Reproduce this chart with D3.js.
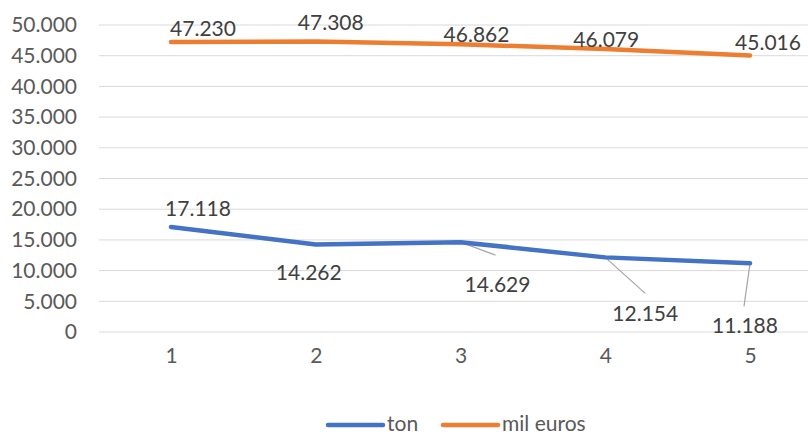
<!DOCTYPE html>
<html>
<head>
<meta charset="utf-8">
<script src="https://cdn.jsdelivr.net/npm/d3@7"></script>
<style>
  body { margin: 0; background: #fff; }
  text { font-family: Lato, 'Open Sans', sans-serif; }
</style>
</head>
<body>
<div id="chart"></div>
<script>
const categories = ['1', '2', '3', '4', '5']
const ton = [17118, 14262, 14629, 12154, 11188]
const milEuros = [47230, 47308, 46862, 46079, 45016]
const yTicks = [0, 5000, 10000, 15000, 20000, 25000, 30000, 35000, 40000, 45000, 50000]
const seriesNames = ['ton', 'mil euros']

// label placement (offset from the point: dx = label centre, dy = baseline)
const tonLabelPos = [[27, -11], [-7, 36], [37, 50], [40, 64], [-5, 70]]
const eurosLabelPos = [[32, -6], [15, -12], [16, -2], [1, -2], [18, -6]]
// leader lines for moved labels (end offset from point), null = none
const tonLeaders = [null, null, [35, 13], [40, 36], [-6, 43]]

const width = 808
const height = 435
const fmt = v => d3.format(',')(v).replace(/,/g, '.')

const svg = d3.select('#chart')
  .append('svg')
  .attr('width', width)
  .attr('height', height)

const x = d3.scalePoint()
  .domain(categories)
  .range([171, 750])

const y = d3.scaleLinear()
  .domain([0, 50000])
  .range([332, 25])

// gridlines
svg.append('g')
  .selectAll('line')
  .data(yTicks)
  .join('line')
  .attr('x1', 99)
  .attr('x2', 823)
  .attr('y1', d => y(d))
  .attr('y2', d => y(d))
  .attr('stroke', '#d9d9d9')
  .attr('stroke-width', 1)

// y axis labels
const yAxis = svg.append('g')
  .attr('transform', 'translate(77,0)')
  .call(d3.axisLeft(y).tickValues(yTicks).tickFormat(fmt).tickSize(0).tickPadding(0))
yAxis.select('.domain').remove()
yAxis.selectAll('text')
  .attr('fill', '#595959')
  .style('font-size', '21px')
  .style('font-family', 'Lato, sans-serif')

// x axis labels
const xAxis = svg.append('g')
  .attr('transform', 'translate(0,348)')
  .call(d3.axisBottom(x).tickSize(0).tickPadding(0))
xAxis.select('.domain').remove()
xAxis.selectAll('text')
  .attr('fill', '#595959')
  .style('font-size', '21px')
  .style('font-family', 'Lato, sans-serif')

const line = d3.line()
  .x((d, i) => x(categories[i]))
  .y(d => y(d))

const colors = ['#4472c4', '#ed7d31']

// leader lines
svg.append('g')
  .selectAll('line')
  .data(ton.map((v, i) => ({ v, i, l: tonLeaders[i] })).filter(d => d.l))
  .join('line')
  .attr('x1', d => x(categories[d.i]))
  .attr('y1', d => y(d.v))
  .attr('x2', d => x(categories[d.i]) + d.l[0])
  .attr('y2', d => y(d.v) + d.l[1])
  .attr('stroke', '#a6a6a6')
  .attr('stroke-width', 1.2)

;[ton, milEuros].forEach((series, k) => {
  svg.append('path')
    .datum(series)
    .attr('fill', 'none')
    .attr('stroke', colors[k])
    .attr('stroke-width', 4.5)
    .attr('stroke-linecap', 'round')
    .attr('stroke-linejoin', 'round')
    .attr('d', line)
})

const drawLabels = (series, pos) => {
  svg.append('g')
    .selectAll('text')
    .data(series)
    .join('text')
    .attr('x', (d, i) => x(categories[i]) + pos[i][0])
    .attr('y', (d, i) => y(d) + pos[i][1])
    .attr('text-anchor', 'middle')
    .attr('fill', '#404040')
    .style('font-size', '21px')
    .text(d => fmt(d))
}
drawLabels(ton, tonLabelPos)
drawLabels(milEuros, eurosLabelPos)

// legend
const legend = svg.append('g')
const legendX = [328, 443]
seriesNames.forEach((name, k) => {
  legend.append('line')
    .attr('x1', legendX[k])
    .attr('x2', legendX[k] + 55)
    .attr('y1', 425)
    .attr('y2', 425)
    .attr('stroke', colors[k])
    .attr('stroke-width', 4.5)
    .attr('stroke-linecap', 'round')
  legend.append('text')
    .attr('x', legendX[k] + 59)
    .attr('y', 431)
    .attr('fill', '#595959')
    .style('font-size', '21px')
    .text(name)
})
</script>
</body>
</html>
